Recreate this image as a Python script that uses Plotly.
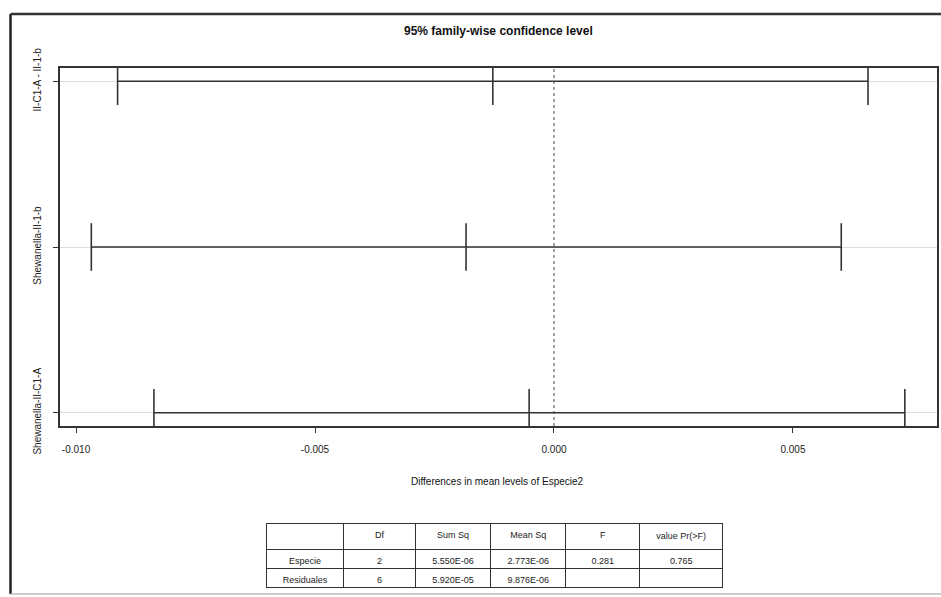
import plotly.graph_objects as go

# Tukey HSD comparisons (Especie2) and the one-way ANOVA summary
comparisons = ["Shewanella-II-C1-A", "Shewanella-II-1-b", "II-C1-A - II-1-b"]
diff = [-0.00052, -0.00184, -0.00128]
lwr = [-0.00837, -0.00968, -0.00913]
upr = [0.00734, 0.00601, 0.00657]
ypos = [1, 2, 3]

xtick_vals = [-0.010, -0.005, 0.000, 0.005]
xtick_text = ["-0.010", "-0.005", "0.000", "0.005"]

anova_header = ["", "Df", "Sum Sq", "Mean Sq", "F", "value Pr(&gt;F)"]
anova_rows = ["Especie", "Residuales"]
anova_df = ["2", "6"]
anova_sumsq = ["5.550E-06", "5.920E-05"]
anova_meansq = ["2.773E-06", "9.876E-06"]
anova_f = ["0.281", ""]
anova_p = ["0.765", ""]

W, H = 941, 597
ink = "#333333"
font = "Liberation Sans, Arial, sans-serif"

fig = go.Figure()

# interval segments
for lo, hi, y in zip(lwr, upr, ypos):
    fig.add_trace(go.Scatter(x=[lo, hi], y=[y, y], mode="lines",
                             line=dict(color=ink, width=1.5),
                             hoverinfo="skip", showlegend=False))

# end and centre ticks
fig.add_trace(go.Scatter(
    x=lwr + diff + upr, y=ypos * 3, mode="markers",
    marker=dict(symbol="line-ns", size=34, line=dict(color=ink, width=1.6)),
    showlegend=False, hoverinfo="x"))

# ANOVA table under the plot
fig.add_trace(go.Table(
    domain=dict(x=[266.7 / W, 723.5 / W], y=[0.0, (H - 523) / H]),
    columnwidth=[76.6, 72.4, 75, 75.3, 74, 83],
    header=dict(values=anova_header, height=19, align="center",
                fill_color="white", line=dict(color=ink, width=1),
                font=dict(family=font, size=9, color="#222")),
    cells=dict(values=[anova_rows, anova_df, anova_sumsq, anova_meansq,
                       anova_f, anova_p],
               height=19, align="center", fill_color="white",
               line=dict(color=ink, width=1),
               font=dict(family=font, size=9, color="#222")),
))

shapes = [
    # zero reference line
    dict(type="line", xref="x", yref="paper", x0=0, x1=0,
         y0=(H - 426) / H, y1=(H - 68) / H,
         line=dict(color="#444", width=1, dash="dot")),
    # outer frame
    dict(type="line", xref="paper", yref="paper", x0=10.5 / W, x1=10.5 / W,
         y0=(H - 594) / H, y1=(H - 14) / H, line=dict(color="#222", width=2.5)),
    dict(type="line", xref="paper", yref="paper", x0=10.5 / W, x1=1,
         y0=(H - 14) / H, y1=(H - 14) / H, line=dict(color="#333", width=2.5)),
    dict(type="line", xref="paper", yref="paper", x0=10.5 / W, x1=1,
         y0=(H - 594) / H, y1=(H - 594) / H, line=dict(color="#bbb", width=1.5)),
]

annotations = [
    dict(text="<b>95% family-wise confidence level</b>", xref="paper", yref="paper",
         x=498.5 / W, y=(H - 31) / H, showarrow=False,
         font=dict(family=font, size=12, color="#111"),
         xanchor="center", yanchor="middle"),
    dict(text="Differences in mean levels of Especie2", xref="paper", yref="paper",
         x=497 / W, y=(H - 481) / H, showarrow=False,
         font=dict(family=font, size=10, color="#111"),
         xanchor="center", yanchor="middle"),
]

fig.update_layout(
    width=W, height=H,
    margin=dict(l=0, r=0, t=0, b=0, pad=0),
    paper_bgcolor="white", plot_bgcolor="white",
    font=dict(family=font, size=10, color="#222"),
    showlegend=False,
    shapes=shapes,
    annotations=annotations,
    xaxis=dict(domain=[60 / W, 937 / W], range=[-0.010335, 0.008013],
               automargin=False,
               tickvals=xtick_vals, ticktext=xtick_text,
               ticks="outside", ticklen=5, tickcolor=ink, tickwidth=1,
               ticklabelstandoff=8,
               showline=True, linecolor=ink, linewidth=1.5, mirror=True,
               showgrid=False, zeroline=False,
               tickfont=dict(family=font, size=10, color="#222")),
    yaxis=dict(domain=[(H - 426) / H, (H - 68) / H], range=[0.92, 3.08],
               automargin=False,
               tickvals=ypos, ticktext=comparisons, tickangle=-90,
               ticks="outside", ticklen=5, tickcolor=ink, tickwidth=1,
               ticklabelstandoff=8,
               showline=True, linecolor=ink, linewidth=1.5, mirror=True,
               showgrid=True, gridcolor="#dddddd", gridwidth=0.8,
               zeroline=False,
               tickfont=dict(family=font, size=10, color="#222")),
)

fig.write_html("out.html")
